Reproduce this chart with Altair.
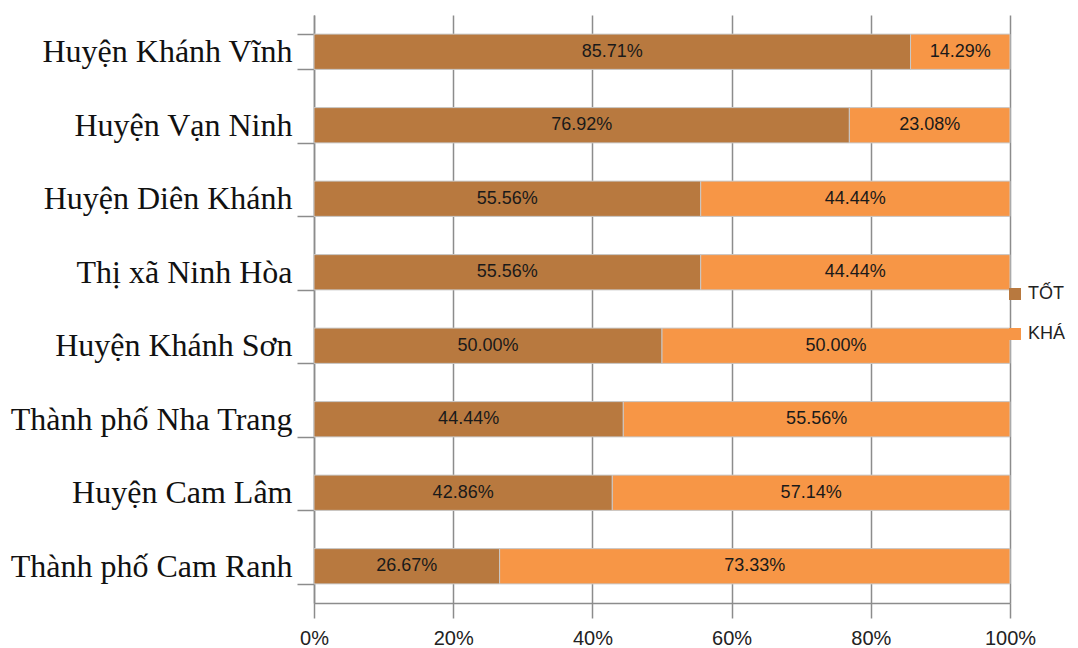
import altair as alt
import pandas as pd

districts = [
    "Huyện Khánh Vĩnh",
    "Huyện Vạn Ninh",
    "Huyện Diên Khánh",
    "Thị xã Ninh Hòa",
    "Huyện Khánh Sơn",
    "Thành phố Nha Trang",
    "Huyện Cam Lâm",
    "Thành phố Cam Ranh",
]
tot = [85.71, 76.92, 55.56, 55.56, 50.00, 44.44, 42.86, 26.67]
kha = [14.29, 23.08, 44.44, 44.44, 50.00, 55.56, 57.14, 73.33]
series = ["TỐT", "KHÁ"]
colors = ["#B8793F", "#F79646"]
x_ticks = [0, 20, 40, 60, 80, 100]

rows = []
for d, t, k in zip(districts, tot, kha):
    rows.append({"district": d, "series": series[0], "order": 0, "value": t})
    rows.append({"district": d, "series": series[1], "order": 1, "value": k})
df = pd.DataFrame(rows)

base = alt.Chart(df).transform_stack(
    stack="value",
    groupby=["district"],
    as_=["x0", "x1"],
    sort=[alt.SortField("order", order="ascending")],
).transform_calculate(
    mid="(datum.x0 + datum.x1) / 2",
    label="format(datum.value, '.2f') + '%'",
)

y_enc = alt.Y(
    "district:N",
    sort=districts,
    title=None,
    scale=alt.Scale(paddingInner=0.52, paddingOuter=0.26),
    axis=alt.Axis(
        tickBand="extent",
        tickSize=17,
        labelPadding=5,
        labelFont="Liberation Serif",
        labelFontSize=32,
        labelColor="#111111",
        domainColor="#8c8c8c",
        tickColor="#8c8c8c",
        domainWidth=1.5,
        tickWidth=1.5,
        grid=False,
        labelLimit=400,
    ),
)

x_axis = alt.Axis(
    values=x_ticks,
    labelExpr="datum.value + '%'",
    labelFlush=False,
    grid=True,
    gridColor="#8c8c8c",
    gridWidth=1.5,
    tickSize=15,
    tickColor="#8c8c8c",
    tickWidth=1.5,
    domainColor="#8c8c8c",
    domainWidth=1.5,
    labelPadding=10,
    labelFont="Liberation Sans",
    labelFontSize=20,
    labelColor="#222222",
)

bars = base.mark_bar(stroke="#c8c8c8", strokeWidth=1).encode(
    y=y_enc,
    x=alt.X("x0:Q", title=None, scale=alt.Scale(domain=[0, 100], nice=False), axis=x_axis),
    x2="x1:Q",
    color=alt.Color(
        "series:N",
        scale=alt.Scale(domain=series, range=colors),
        legend=alt.Legend(
            orient="none",
            legendX=692,
            legendY=270,
            title=None,
            symbolType="square",
            symbolSize=144,
            symbolStrokeWidth=0,
            labelFont="Liberation Sans",
            labelFontSize=18,
            labelColor="#222222",
            labelOffset=4,
            rowPadding=22,
            padding=0,
        ),
    ),
    order=alt.Order("order:Q"),
)

labels = base.mark_text(
    font="Liberation Sans", fontSize=18, color="#1a1a1a"
).encode(
    y=alt.Y("district:N", sort=districts),
    x=alt.X("mid:Q"),
    text="label:N",
)

chart = (
    alt.layer(bars, labels)
    .properties(
        width=696,
        height=588,
        padding={"left": 306, "top": 7, "right": 60, "bottom": 45},
        autosize=alt.AutoSizeParams(type="none"),
    )
    .configure_view(stroke=None)
)

chart.save("out.html", embed_options={"renderer": "svg", "actions": False})
